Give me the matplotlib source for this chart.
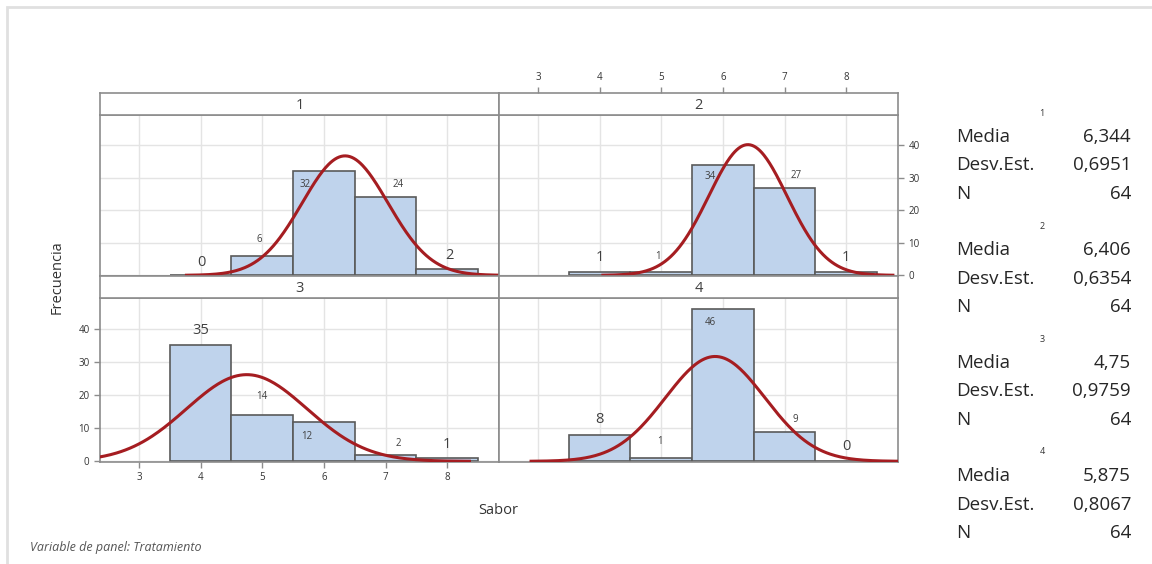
import numpy as np
import matplotlib
matplotlib.use('Agg')
import matplotlib.pyplot as plt
from matplotlib.patches import Rectangle

plt.rcParams['font.family'] = ['Open Sans', 'DejaVu Sans']

# datos
bins = [4, 5, 6, 7, 8]
paneles = ['1', '2', '3', '4']
frec = {
    '1': [0, 6, 32, 24, 2],
    '2': [1, 1, 34, 27, 1],
    '3': [35, 14, 12, 2, 1],
    '4': [8, 1, 46, 9, 0],
}
media = {'1': 6.344, '2': 6.406, '3': 4.75, '4': 5.875}
desv = {'1': 0.6951, '2': 0.6354, '3': 0.9759, '4': 0.8067}
n_obs = {'1': 64, '2': 64, '3': 64, '4': 64}
media_txt = {'1': '6,344', '2': '6,406', '3': '4,75', '4': '5,875'}
desv_txt = {'1': '0,6951', '2': '0,6354', '3': '0,9759', '4': '0,8067'}

# posiciones de etiquetas (x, y, grande?)
etiq = {
    '1': [(4.02, 4.0, True), (4.96, 11, False), (5.7, 28, False), (7.2, 27.8, False), (8.03, 6.1, True)],
    '2': [(4.0, 5.5, True), (4.95, 5.8, False), (5.8, 30.5, False), (7.18, 30.8, False), (7.99, 5.5, True)],
    '3': [(4.0, 39.4, True), (5.0, 19.7, False), (5.73, 7.6, False), (7.2, 5.5, False), (8.0, 5.2, True)],
    '4': [(4.0, 12.7, True), (4.98, 6.1, False), (5.79, 42, False), (7.17, 12.7, False), (8.0, 4.5, True)],
}

W, H = 1152, 564
fig = plt.figure(figsize=(W / 100, H / 100), dpi=100)

def fx(px):
    return px / W

def fy(py):
    return 1 - py / H

gris = '#8c8c8c'
azul = '#bfd3ec'
rojo = '#a51d21'

# marco exterior
fig.add_artist(Rectangle((fx(7), fy(H + 5)), fx(W + 10), fy(7) - fy(H + 5),
                         transform=fig.transFigure, fill=False,
                         edgecolor='#e0e0e0', lw=2))

col_x = {0: 100, 1: 499}
filas = {0: (93, 115, 276), 1: (276, 298, 462)}
pw = 399

for i, p in enumerate(paneles):
    fila, col = divmod(i, 2)
    ts, ds, de = filas[fila]
    x0 = col_x[col]
    ax = fig.add_axes([fx(x0), fy(de), pw / W, (de - ds) / H])
    sx = fig.add_axes([fx(x0), fy(ds), pw / W, (ds - ts) / H])
    sx.set_yticks([])
    sx.tick_params(bottom=False, labelbottom=False)
    sx.text(0.5, 0.45, p, ha='center', va='center', fontsize=10.5, color='#404040',
            transform=sx.transAxes)
    for s in sx.spines.values():
        s.set_color(gris)
        s.set_linewidth(1.2)

    ax.set_axisbelow(True)
    ax.grid(True, color='#e4e4e4', lw=1)
    ax.bar(bins, frec[p], width=1, color=azul, edgecolor='#5a5a5a', lw=1.2, zorder=2)
    m, s = media[p], desv[p]
    xs = np.linspace(m - 3.7 * s, m + 3.7 * s, 300)
    ys = n_obs[p] * 1.0 / (s * np.sqrt(2 * np.pi)) * np.exp(-0.5 * ((xs - m) / s) ** 2)
    ax.plot(xs, ys, color=rojo, lw=2.2, zorder=3, clip_on=True)
    for (lx, ly, grande), v in zip(etiq[p], frec[p]):
        ax.text(lx, ly, str(v), ha='center', va='center',
                fontsize=10.5 if grande else 7, color='#404040', zorder=4)
    ax.set_xlim(2.37, 8.84)
    ax.set_ylim(-0.2, 49.3)
    ax.set_xticks([3, 4, 5, 6, 7, 8])
    ax.set_yticks([0, 10, 20, 30, 40])
    for sp in ax.spines.values():
        sp.set_color(gris)
        sp.set_linewidth(1.2)
    ax.tick_params(colors=gris, labelcolor='#333333', labelsize=7, length=4, width=1)
    if p == '3':
        ax.tick_params(left=True, labelleft=True, bottom=True, labelbottom=True)
    else:
        ax.tick_params(left=False, labelleft=False, bottom=False, labelbottom=False)
    sx.set_xlim(2.37, 8.84)
    if p == '2':
        ax.tick_params(right=True, labelright=True)
        sx.set_xticks([3, 4, 5, 6, 7, 8])
        sx.tick_params(top=True, labeltop=True, colors=gris, labelcolor='#333333',
                       labelsize=7, length=4, width=1)
    else:
        sx.set_xticks([])

fig.text(fx(57), fy(277), 'Frecuencia', rotation=90, ha='center', va='center',
         fontsize=10.5, color='#333333')
fig.text(fx(498), fy(510), 'Sabor', ha='center', va='center', fontsize=10.5,
         color='#333333')
fig.text(fx(30), fy(548), 'Variable de panel: Tratamiento', ha='left', va='center',
         fontsize=9, style='italic', color='#555555')

# tabla de estadísticos
y0 = 113
for p in paneles:
    fig.text(fx(1042), fy(y0), p, ha='center', va='center', fontsize=6.5, color='#333333')
    filas_txt = [('Media', media_txt[p]), ('Desv.Est.', desv_txt[p]), ('N', str(n_obs[p]))]
    for k, (a, b) in enumerate(filas_txt):
        yy = y0 + 24 + 28.5 * k
        fig.text(fx(956), fy(yy), a, ha='left', va='center', fontsize=13.5, color='#262626')
        fig.text(fx(1131), fy(yy), b, ha='right', va='center', fontsize=13.5, color='#262626')
    y0 += 113

fig.savefig('out.png', dpi=100)
